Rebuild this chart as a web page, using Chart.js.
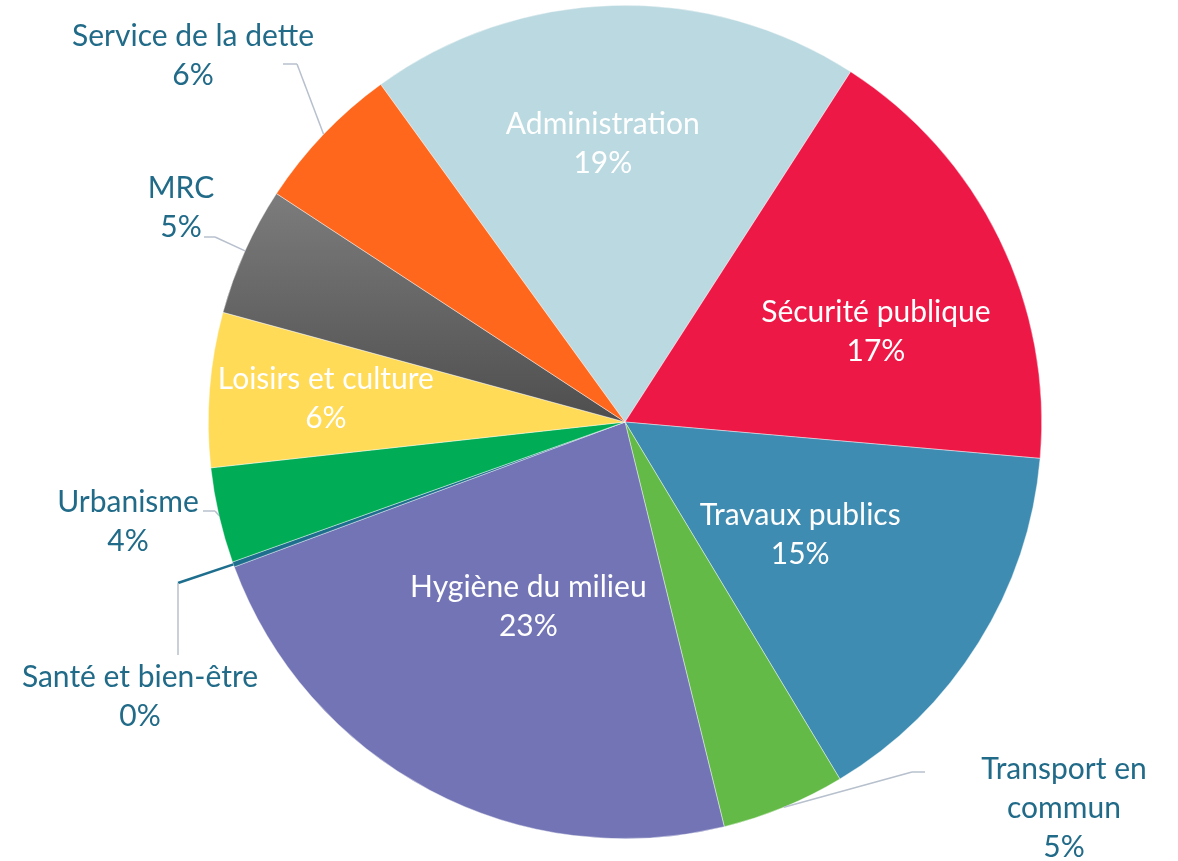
<!DOCTYPE html>
<html>
<head>
<meta charset="utf-8">
<script src="https://cdn.jsdelivr.net/npm/chart.js@4.4.0/dist/chart.umd.min.js"></script>
<style>
  html, body { margin: 0; padding: 0; background: #fff; }
  #wrap { width: 1178px; height: 861px; }
</style>
</head>
<body>
<div id="wrap"><canvas id="pie" width="1178" height="861"></canvas></div>
<script>
// budget categories and their share (%)
const categories = ['Administration', 'Sécurité publique', 'Travaux publics', 'Transport en commun',
    'Hygiène du milieu', 'Santé et bien-être', 'Urbanisme', 'Loisirs et culture', 'MRC', 'Service de la dette'];
const shares = [19.1, 17.3, 15.0, 4.8, 23.2, 0.2, 3.7, 6.0, 5.0, 5.8];

const colors = ['#BBD9E0', '#EE1846', '#3E8CB1', '#63BA47', '#7274B5', '#1E6E8E', '#00AC55', '#FFDB58', '#666666', '#FF671D'];

// how each label is placed (text lines split where the picture wraps them)
const labelLines = [['Administration'], ['Sécurité publique'], ['Travaux publics'], ['Transport en', 'commun'],
    ['Hygiène du milieu'], ['Santé et bien-être'], ['Urbanisme'], ['Loisirs et culture'], ['MRC'], ['Service de la dette']];
const labelPlace = [
    { inside: true, r: 0.67, dAng: -3 },
    { inside: true, r: 0.64, dAng: 6.3 },
    { inside: true, r: 0.50, dAng: 0.8 },
    { x: 1064, y: 769, elbow: [912, 772], end: [925, 772] },
    { inside: true, r: 0.50, dAng: -0.3 },
    { x: 140, y: 677, elbow: [178, 583], end: [178, 655], firstColor: '#1E6E8E' },
    { x: 128, y: 502, elbow: [215, 511], end: [203, 511] },
    { inside: true, r: 0.72, dAng: 0 },
    { x: 181, y: 188, elbow: [215, 237], end: [204, 237] },
    { x: 193, y: 36, elbow: [297, 64], end: [283, 64] }
];

const FONT = '30px Lato, "Open Sans", sans-serif';
const LINE_H = 39;

const labelPlugin = {
    id: 'pieLabels',
    afterDatasetsDraw(chart) {
        const ctx = chart.ctx;
        const meta = chart.getDatasetMeta(0);
        const total = shares.reduce((a, b) => a + b, 0);
        ctx.save();
        ctx.font = FONT;
        ctx.textAlign = 'center';
        ctx.textBaseline = 'middle';
        meta.data.forEach((arc, i) => {
            const p = arc.getProps(['x', 'y', 'startAngle', 'endAngle', 'outerRadius'], true);
            const mid = (p.startAngle + p.endAngle) / 2;
            const place = labelPlace[i];
            const lines = labelLines[i].concat([Math.round(shares[i] / total * 100) + '%']);
            let tx, ty;
            if (place.inside) {
                const a = mid + place.dAng * Math.PI / 180;
                const r = place.r * p.outerRadius;
                tx = p.x + r * Math.cos(a);
                ty = p.y + r * Math.sin(a) - (lines.length - 1) * LINE_H / 2;
                ctx.fillStyle = '#ffffff';
            } else {
                const sx = p.x + p.outerRadius * Math.cos(mid);
                const sy = p.y + p.outerRadius * Math.sin(mid);
                ctx.lineWidth = 1.5;
                ctx.strokeStyle = place.firstColor || '#B7C0CD';
                if (place.firstColor) ctx.lineWidth = 2.5;
                ctx.beginPath();
                ctx.moveTo(sx, sy);
                ctx.lineTo(place.elbow[0], place.elbow[1]);
                ctx.stroke();
                ctx.lineWidth = 1.5;
                ctx.strokeStyle = '#B7C0CD';
                ctx.beginPath();
                ctx.moveTo(place.elbow[0], place.elbow[1]);
                ctx.lineTo(place.end[0], place.end[1]);
                ctx.stroke();
                tx = place.x;
                ty = place.y;
                ctx.fillStyle = '#216B89';
            }
            lines.forEach((t, k) => ctx.fillText(t, tx, ty + k * LINE_H));
        });
        ctx.restore();
    }
};

const ctx1 = document.getElementById('pie').getContext('2d');

const pie = new Chart(ctx1, {
    type: 'pie',
    data: {
        labels: categories,
        datasets: [{
            data: shares,
            borderWidth: 0.6,
            borderColor: 'rgba(255,255,255,0.7)',
            backgroundColor: (c) => {
                if (c.dataIndex === 8 && c.chart.chartArea) {
                    const g = c.chart.ctx.createLinearGradient(0, 195, 0, 422);
                    g.addColorStop(0, '#7C7C7C');
                    g.addColorStop(1, '#4E4E4E');
                    return g;
                }
                return colors[c.dataIndex];
            }
        }]
    },
    options: {
        responsive: false,
        animation: false,
        events: [],
        rotation: -35.9,
        layout: { padding: { left: 208, right: 136, top: 5, bottom: 22 } },
        plugins: {
            legend: { display: false },
            tooltip: { enabled: false }
        }
    },
    plugins: [labelPlugin]
});
</script>
</body>
</html>
